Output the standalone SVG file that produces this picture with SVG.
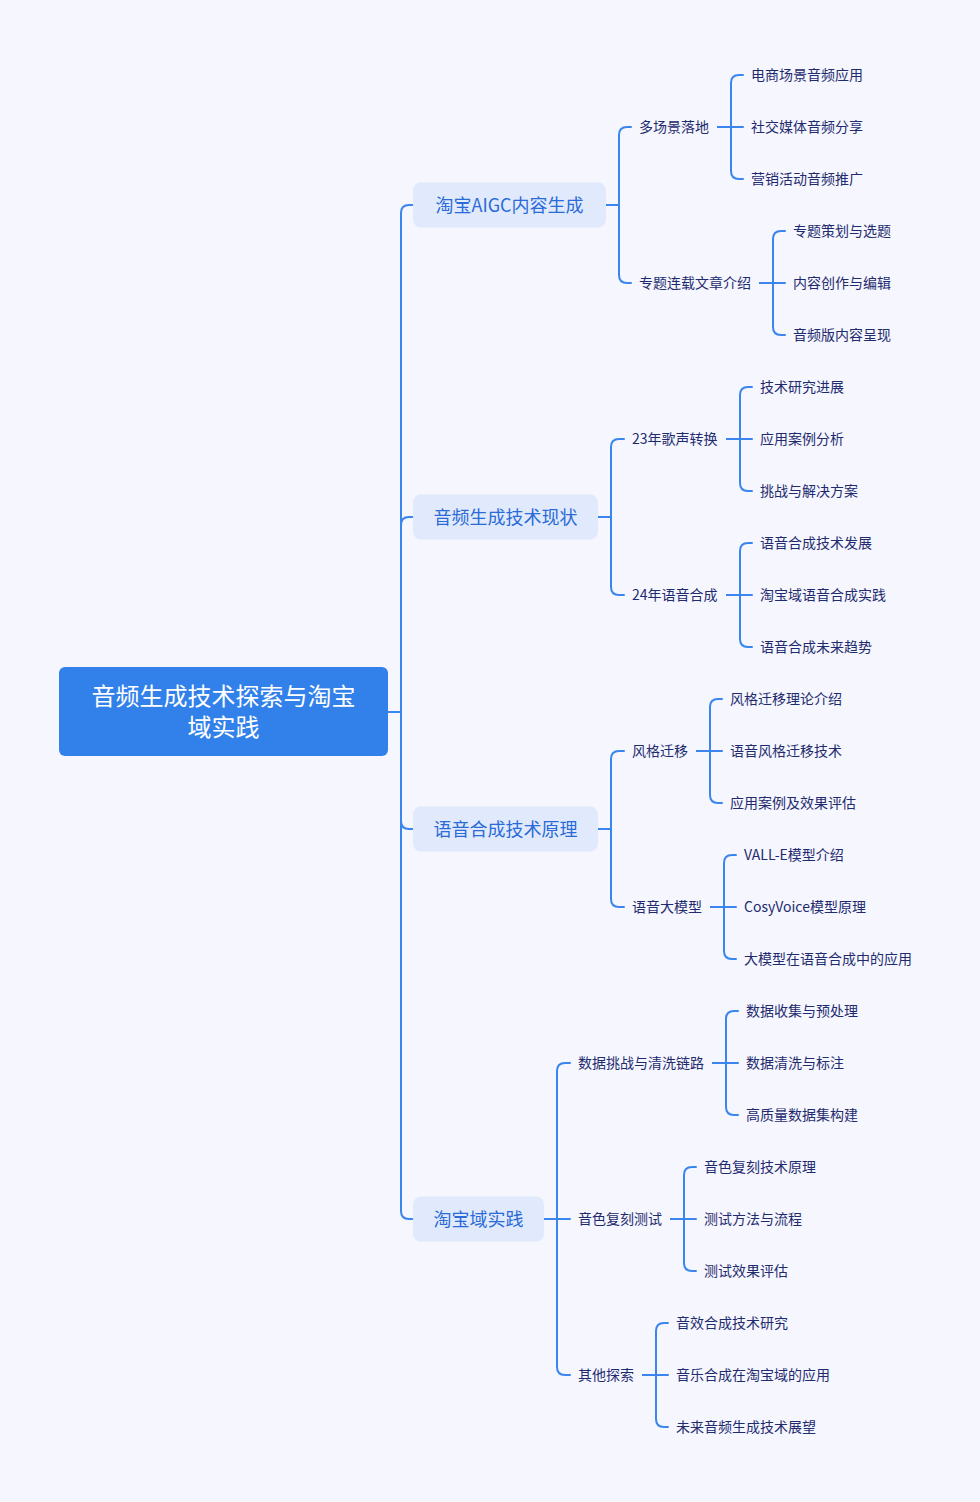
<svg xmlns="http://www.w3.org/2000/svg" width="980" height="1502" viewBox="0 0 980 1502">
<style>
text{font-family:"Noto Sans CJK SC","Noto Sans",sans-serif}
.root rect{fill:#3281EA}
.root text{fill:#ffffff;font-size:24px;text-anchor:middle}
.br rect{fill:#E1EAFC}
.br text{fill:#2A6BD8;font-size:18px;text-anchor:middle}
.lf text{fill:#1F2B6E;font-size:14px}
#connectors path{fill:none;stroke:#3A85EE;stroke-width:2;stroke-linecap:round;stroke-linejoin:round}
</style>
<rect width="980" height="1502" fill="#F5F6FE"/>
<g id="connectors">
<path d="M388 712 H401 V213 Q401 205 409 205 H413"/>
<path d="M388 712 H401 V525 Q401 517 409 517 H413"/>
<path d="M388 712 H401 V821 Q401 829 409 829 H413"/>
<path d="M388 712 H401 V1211 Q401 1219 409 1219 H413"/>
<path d="M606 205 H619 V135 Q619 127 627 127 H631"/>
<path d="M606 205 H619 V275 Q619 283 627 283 H631"/>
<path d="M718 127 H731 V83 Q731 75 739 75 H743"/>
<path d="M718 127 H743"/>
<path d="M718 127 H731 V171 Q731 179 739 179 H743"/>
<path d="M760 283 H773 V239 Q773 231 781 231 H785"/>
<path d="M760 283 H785"/>
<path d="M760 283 H773 V327 Q773 335 781 335 H785"/>
<path d="M598 517 H611 V447 Q611 439 619 439 H624"/>
<path d="M598 517 H611 V587 Q611 595 619 595 H624"/>
<path d="M727 439 H740 V395 Q740 387 748 387 H752"/>
<path d="M727 439 H752"/>
<path d="M727 439 H740 V483 Q740 491 748 491 H752"/>
<path d="M727 595 H740 V551 Q740 543 748 543 H752"/>
<path d="M727 595 H752"/>
<path d="M727 595 H740 V639 Q740 647 748 647 H752"/>
<path d="M598 829 H611 V759 Q611 751 619 751 H624"/>
<path d="M598 829 H611 V899 Q611 907 619 907 H624"/>
<path d="M697 751 H710 V707 Q710 699 718 699 H722"/>
<path d="M697 751 H722"/>
<path d="M697 751 H710 V795 Q710 803 718 803 H722"/>
<path d="M711 907 H724 V863 Q724 855 732 855 H736"/>
<path d="M711 907 H736"/>
<path d="M711 907 H724 V951 Q724 959 732 959 H736"/>
<path d="M544 1219 H557 V1071 Q557 1063 565 1063 H570"/>
<path d="M544 1219 H570"/>
<path d="M544 1219 H557 V1367 Q557 1375 565 1375 H570"/>
<path d="M713 1063 H726 V1019 Q726 1011 734 1011 H738"/>
<path d="M713 1063 H738"/>
<path d="M713 1063 H726 V1107 Q726 1115 734 1115 H738"/>
<path d="M671 1219 H684 V1175 Q684 1167 692 1167 H696"/>
<path d="M671 1219 H696"/>
<path d="M671 1219 H684 V1263 Q684 1271 692 1271 H696"/>
<path d="M643 1375 H656 V1331 Q656 1323 664 1323 H668"/>
<path d="M643 1375 H668"/>
<path d="M643 1375 H656 V1419 Q656 1427 664 1427 H668"/>
</g>
<g id="root" class="root"><rect x="59" y="667" width="329" height="89" rx="6"/><text x="223.5" y="705"><tspan x="223.5" y="705">音频生成技术探索与淘宝</tspan><tspan x="223.5" y="736">域实践</tspan></text></g>
<g id="b1" class="br"><rect x="413" y="182.5" width="193" height="45" rx="8"/><text x="509.5" y="211.5">淘宝AIGC内容生成</text></g>
<g id="b2" class="br"><rect x="413" y="494.5" width="185" height="45" rx="8"/><text x="505.5" y="523.5">音频生成技术现状</text></g>
<g id="b3" class="br"><rect x="413" y="806.5" width="185" height="45" rx="8"/><text x="505.5" y="835.5">语音合成技术原理</text></g>
<g id="b4" class="br"><rect x="413" y="1196.5" width="131" height="45" rx="8"/><text x="478.5" y="1225.5">淘宝域实践</text></g>
<g id="s1" class="lf"><text x="639" y="132">多场景落地</text></g>
<g id="l1" class="lf"><text x="751" y="80">电商场景音频应用</text></g>
<g id="l2" class="lf"><text x="751" y="132">社交媒体音频分享</text></g>
<g id="l3" class="lf"><text x="751" y="184">营销活动音频推广</text></g>
<g id="s2" class="lf"><text x="639" y="288">专题连载文章介绍</text></g>
<g id="l4" class="lf"><text x="793" y="236">专题策划与选题</text></g>
<g id="l5" class="lf"><text x="793" y="288">内容创作与编辑</text></g>
<g id="l6" class="lf"><text x="793" y="340">音频版内容呈现</text></g>
<g id="s3" class="lf"><text x="632" y="444">23年歌声转换</text></g>
<g id="l7" class="lf"><text x="760" y="392">技术研究进展</text></g>
<g id="l8" class="lf"><text x="760" y="444">应用案例分析</text></g>
<g id="l9" class="lf"><text x="760" y="496">挑战与解决方案</text></g>
<g id="s4" class="lf"><text x="632" y="600">24年语音合成</text></g>
<g id="l10" class="lf"><text x="760" y="548">语音合成技术发展</text></g>
<g id="l11" class="lf"><text x="760" y="600">淘宝域语音合成实践</text></g>
<g id="l12" class="lf"><text x="760" y="652">语音合成未来趋势</text></g>
<g id="s5" class="lf"><text x="632" y="756">风格迁移</text></g>
<g id="l13" class="lf"><text x="730" y="704">风格迁移理论介绍</text></g>
<g id="l14" class="lf"><text x="730" y="756">语音风格迁移技术</text></g>
<g id="l15" class="lf"><text x="730" y="808">应用案例及效果评估</text></g>
<g id="s6" class="lf"><text x="632" y="912">语音大模型</text></g>
<g id="l16" class="lf"><text x="744" y="860">VALL-E模型介绍</text></g>
<g id="l17" class="lf"><text x="744" y="912">CosyVoice模型原理</text></g>
<g id="l18" class="lf"><text x="744" y="964">大模型在语音合成中的应用</text></g>
<g id="s7" class="lf"><text x="578" y="1068">数据挑战与清洗链路</text></g>
<g id="l19" class="lf"><text x="746" y="1016">数据收集与预处理</text></g>
<g id="l20" class="lf"><text x="746" y="1068">数据清洗与标注</text></g>
<g id="l21" class="lf"><text x="746" y="1120">高质量数据集构建</text></g>
<g id="s8" class="lf"><text x="578" y="1224">音色复刻测试</text></g>
<g id="l22" class="lf"><text x="704" y="1172">音色复刻技术原理</text></g>
<g id="l23" class="lf"><text x="704" y="1224">测试方法与流程</text></g>
<g id="l24" class="lf"><text x="704" y="1276">测试效果评估</text></g>
<g id="s9" class="lf"><text x="578" y="1380">其他探索</text></g>
<g id="l25" class="lf"><text x="676" y="1328">音效合成技术研究</text></g>
<g id="l26" class="lf"><text x="676" y="1380">音乐合成在淘宝域的应用</text></g>
<g id="l27" class="lf"><text x="676" y="1432">未来音频生成技术展望</text></g>
</svg>
